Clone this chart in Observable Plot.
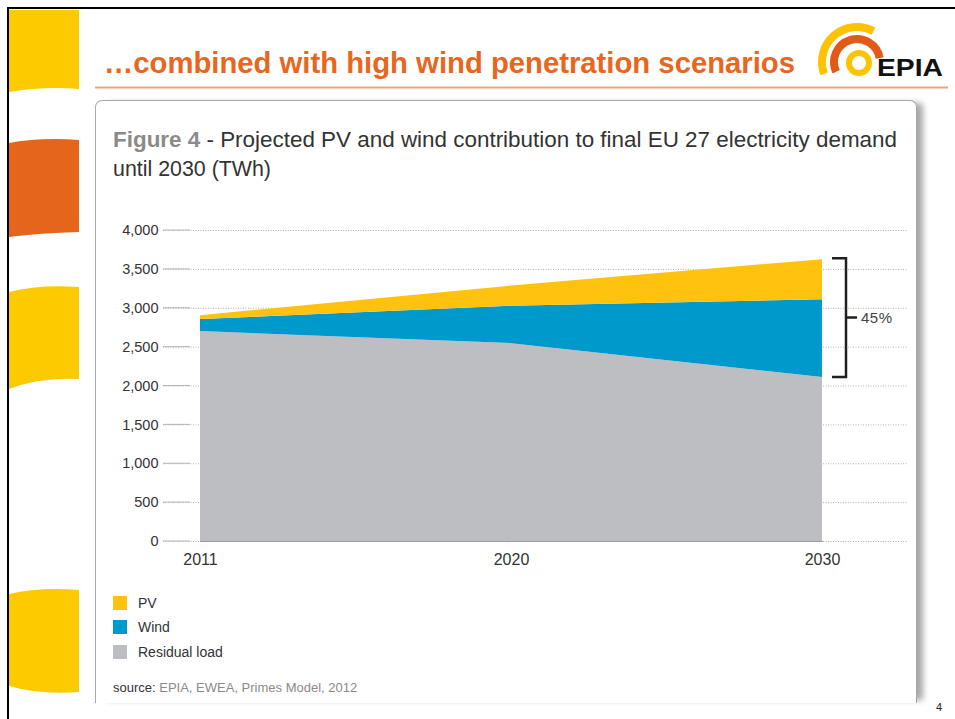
<!DOCTYPE html>
<html><head><meta charset="utf-8">
<script src="https://cdn.jsdelivr.net/npm/d3@7"></script>
<script src="https://cdn.jsdelivr.net/npm/@observablehq/plot@0.6"></script>
<style>
body{margin:0;background:#fff;}
#page{position:relative;width:955px;height:719px;overflow:hidden;font-family:"Liberation Sans",Arial,sans-serif;background:#fff;}
#deco{position:absolute;left:0;top:0;}
#card{position:absolute;left:95px;top:100px;width:822px;height:603px;border:1px solid #a8a8a8;border-bottom:none;border-radius:7px 7px 0 0;box-shadow:9px 0 6px -3px rgba(0,0,0,0.35);background:#fff;box-sizing:border-box;}
#titles{position:absolute;left:0;top:0;}
#chart{position:absolute;left:0;top:200px;}
.leg{position:absolute;left:113px;height:14px;display:flex;align-items:center;font-size:14px;color:#333;}
.leg span.sw{display:inline-block;width:14px;height:14px;margin-right:11px;}
#source{position:absolute;left:113px;top:680px;font-size:13px;color:#333;}
#source span{color:#8a8a8a;}
#pnum{position:absolute;left:936px;top:701px;font-size:11px;color:#222;}
</style></head>
<body>
<div id="page">
  <svg id="deco" width="955" height="719"></svg>
  <div id="card"></div>
  <svg id="titles" width="955" height="200"></svg>
  <div id="chart"></div>
  <div id="legend"></div>
  <div id="source">source: <span>EPIA, EWEA, Primes Model, 2012</span></div>
  <div id="pnum">4</div>
</div>
<script>
// ---- data ----
const years = [2011, 2020, 2030];
const series = ["PV", "Wind", "Residual load"];
const residual = [2700, 2545, 2110];
const wind = [155, 480, 1000];
const pv = [50, 260, 515];
const colors = ["#FFC20E", "#0099CC", "#BDBEC1"];
const yTicks = [0, 500, 1000, 1500, 2000, 2500, 3000, 3500, 4000];
const shareLabel = "45%";
const mainTitle = "\u2026combined with high wind penetration scenarios";
const figTitleBold = "Figure 4";
const figTitleRest = " - Projected PV and wind contribution to final EU 27 electricity demand";
const figTitle2 = "until 2030 (TWh)";

const rows = [];
years.forEach((yr, i) => {
  rows.push({year: yr, series: "Residual load", value: residual[i]});
  rows.push({year: yr, series: "Wind", value: wind[i]});
  rows.push({year: yr, series: "PV", value: pv[i]});
});

// ---- decorations ----
const deco = d3.select("#deco");
const yel = "#FDCA00", ora = "#E5651A";
deco.append("path").attr("d","M9,10 H79 V89 Q44,86 9,92 Z").attr("fill",yel);
deco.append("path").attr("d","M9,143 Q40,137 79,140 V232 Q40,233 9,237 Z").attr("fill",ora);
deco.append("path").attr("d","M9,292 Q40,284 79,287 V379 Q40,377 9,389 Z").attr("fill",yel);
deco.append("path").attr("d","M9,594 Q40,587 79,590 V692 Q40,695 9,686 Z").attr("fill",yel);
deco.append("line").attr("x1",7).attr("x2",955).attr("y1",8).attr("y2",8).attr("stroke","#000").attr("stroke-width",2);
deco.append("line").attr("x1",8).attr("x2",8).attr("y1",7).attr("y2",719).attr("stroke","#000").attr("stroke-width",2);
deco.append("line").attr("x1",95).attr("x2",948).attr("y1",87.5).attr("y2",87.5).attr("stroke","#F2A27B").attr("stroke-width",2);

// logo
function arcPath(cx, cy, r, a0, a1) {
  const rad = Math.PI / 180;
  const x0 = cx + r * Math.cos(a0 * rad), y0 = cy - r * Math.sin(a0 * rad);
  const x1 = cx + r * Math.cos(a1 * rad), y1 = cy - r * Math.sin(a1 * rad);
  const large = (a1 - a0) > 180 ? 1 : 0;
  return `M${x0},${y0} A${r},${r} 0 ${large} 0 ${x1},${y1}`;
}
const lg = deco.append("g");
lg.append("path").attr("d", arcPath(857, 62, 35, 62, 200)).attr("fill","none").attr("stroke","#FDC300").attr("stroke-width",8);
lg.append("path").attr("d", arcPath(857, 62, 23, 10, 205)).attr("fill","none").attr("stroke","#E25A16").attr("stroke-width",8);
lg.append("circle").attr("cx",859).attr("cy",63).attr("r",10).attr("fill","none").attr("stroke","#FDC300").attr("stroke-width",6);
lg.append("text").attr("x",877).attr("y",76).attr("font-size",24).attr("font-weight","bold")
  .attr("font-family","Liberation Sans, Arial, sans-serif").attr("fill","#111")
  .attr("textLength",66).attr("lengthAdjust","spacingAndGlyphs").text("EPIA");

// titles
const tt = d3.select("#titles");
tt.append("text").attr("x",104).attr("y",73).attr("font-size",30).attr("font-weight","bold")
  .attr("font-family","Liberation Sans, Arial, sans-serif").attr("fill","#E8661E")
  .attr("textLength",691).attr("lengthAdjust","spacingAndGlyphs").text(mainTitle);
const ft = tt.append("text").attr("x",113).attr("y",147).attr("font-size",22)
  .attr("font-family","Liberation Sans, Arial, sans-serif").attr("fill","#333")
  .attr("textLength",784).attr("lengthAdjust","spacingAndGlyphs");
ft.append("tspan").attr("font-weight","bold").attr("fill","#8a8a8a").text(figTitleBold);
ft.append("tspan").text(figTitleRest);
tt.append("text").attr("x",113).attr("y",176).attr("font-size",22)
  .attr("font-family","Liberation Sans, Arial, sans-serif").attr("fill","#333")
  .attr("textLength",158).attr("lengthAdjust","spacingAndGlyphs").text(figTitle2);

// ---- chart ----
const chart = Plot.plot({
  width: 955, height: 380,
  marginLeft: 163, marginRight: 47, marginTop: 30, marginBottom: 39,
  style: {background: "transparent", fontFamily: "Liberation Sans, Arial, sans-serif", overflow: "visible"},
  x: {type: "point", domain: years, range: [200, 822], padding: 0},
  y: {domain: [0, 4000]},
  color: {domain: series, range: colors},
  marks: [
    Plot.ruleY(yTicks, {stroke: "#b0b0b0", strokeDasharray: "1,1.5"}),
    Plot.areaY(rows, {x: "year", y: "value", fill: "series", order: ["Residual load", "Wind", "PV"], curve: "linear"}),
    Plot.lineY(years, {x: d => d, y: () => 0, stroke: "#9a9a9a", strokeWidth: 1}),
    Plot.axisY({ticks: yTicks, tickSize: 0, tickPadding: 5, tickFormat: d3.format(","), fontSize: 14.5, color: "#333", label: null}),
    Plot.axisX({tickSize: 0, tickPadding: 12, fontSize: 16, color: "#333", label: null, tickFormat: d => String(d)})
  ]
});
document.getElementById("chart").appendChild(chart);

const sx = chart.scale("x"), sy = chart.scale("y");
const svg = d3.select(chart);
const ann = svg.append("g");
ann.selectAll("line.tk").data(yTicks).join("line").attr("class","tk")
  .attr("x1", 163).attr("x2", 190)
  .attr("y1", d => sy.apply(d)).attr("y2", d => sy.apply(d))
  .attr("stroke", "#b5b5b5").attr("stroke-width", 1);

const xe = sx.apply(years[2]);
const topV = residual[2] + wind[2] + pv[2];
const yTop = sy.apply(topV) - 1, yBot = sy.apply(residual[2]);
const yMid = (yTop + yBot) / 2;
ann.append("path")
  .attr("d", `M${xe + 10},${yTop} H${xe + 24} V${yBot} H${xe + 10} M${xe + 24},${yMid} H${xe + 35}`)
  .attr("fill", "none").attr("stroke", "#231F20").attr("stroke-width", 2.5);
ann.append("text").attr("x", xe + 39).attr("y", yMid).attr("dy", "0.35em")
  .attr("text-anchor", "start")
  .attr("font-size", 15).attr("fill", "#444").attr("letter-spacing", 0.5).text(shareLabel);

// ---- legend ----
const legend = d3.select("#legend");
const legTops = [596, 620, 645];
series.forEach((s, i) => {
  const d = legend.append("div").attr("class", "leg").style("top", legTops[i] + "px");
  d.append("span").attr("class", "sw").style("background", colors[i]);
  d.append("span").text(s);
});
</script>
</body></html>
